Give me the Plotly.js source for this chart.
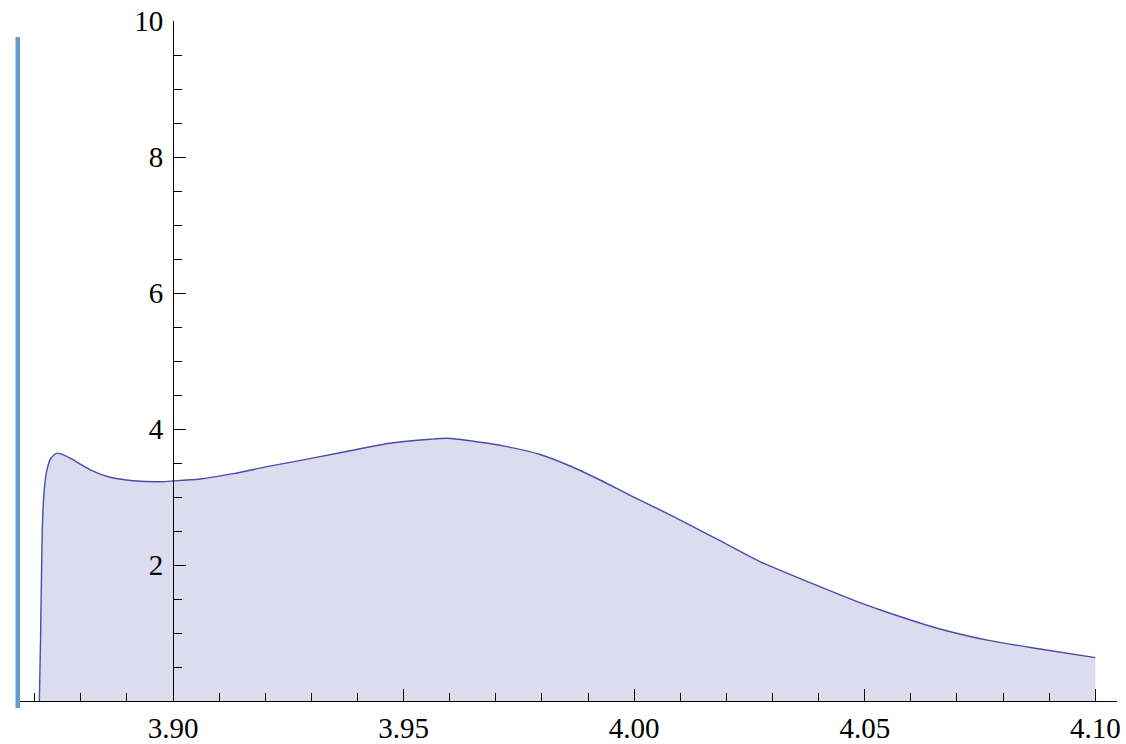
<!DOCTYPE html>
<html>
<head>
<meta charset="utf-8">
<script src="https://cdn.plot.ly/plotly-3.0.1.min.js"></script>
<style>html,body{margin:0;padding:0;background:#fff;}#chart{width:1126px;height:744px;}</style>
</head>
<body>
<div id="chart"></div>
<script>
// Density curve
const xValues = [3.8710, 3.87125, 3.87147, 3.87168, 3.87205, 3.87264, 3.87350, 3.87480, 3.87624, 3.87769,
  3.88203, 3.88636, 3.89135, 3.89720, 3.90000, 3.90588, 3.91303, 3.92034, 3.92539, 3.93623,
  3.94707, 3.95574, 3.95937, 3.96442, 3.97240, 3.97960, 3.98610, 3.99260, 3.99910, 4.00560,
  4.01210, 4.01860, 4.02729, 4.03813, 4.04897, 4.05547, 4.06631, 4.07715, 4.08800, 4.10000];
const yValues = [0.0, 0.90, 1.88, 2.62, 3.10, 3.40, 3.57, 3.645, 3.62, 3.57,
  3.40, 3.29, 3.24, 3.225, 3.235, 3.265, 3.343, 3.446, 3.51, 3.651,
  3.79, 3.849, 3.863, 3.828, 3.74, 3.625, 3.456, 3.25, 3.025, 2.809,
  2.588, 2.357, 2.049, 1.740, 1.446, 1.290, 1.059, 0.887, 0.765, 0.637];

const xMajorTicks = [3.90, 3.95, 4.00, 4.05, 4.10];
const xTickLabels = ["3.90", "3.95", "4.00", "4.05", "4.10"];
const xMinorTicks = [3.87, 3.88, 3.89, 3.91, 3.92, 3.93, 3.94, 3.96, 3.97, 3.98, 3.99,
  4.01, 4.02, 4.03, 4.04, 4.06, 4.07, 4.08, 4.09];
const yMajorTicks = [2, 4, 6, 8, 10];
const yTickLabels = ["2", "4", "6", "8", "10"];
const yMinorTicks = [0.5, 1, 1.5, 2.5, 3, 3.5, 4.5, 5, 5.5, 6.5, 7, 7.5, 8.5, 9, 9.5];

const W = 1126, H = 744;
const L = 20, R = 9, T = 21, B = 43;
const xRange = [3.8668, 4.1047];
const yAxisPos = (3.90 - xRange[0]) / (xRange[1] - xRange[0]);
const tickFont = {family: "Liberation Serif, Times New Roman, serif", size: 29, color: "#000"};

const trace = {
  x: xValues, y: yValues, type: "scatter", mode: "lines",
  line: {color: "rgb(72,76,170)", width: 1.4, shape: "spline", smoothing: 0.7},
  fill: "tozeroy", fillcolor: "rgb(221,220,238)",
  hoverinfo: "skip", showlegend: false
};

const layout = {
  width: W, height: H,
  margin: {l: L, r: R, t: T, b: B, pad: 0},
  paper_bgcolor: "#fff", plot_bgcolor: "#fff",
  showlegend: false,
  xaxis: {
    range: xRange, showgrid: false, zeroline: false,
    showline: true, linecolor: "#000", linewidth: 1,
    tickmode: "array", tickvals: xMajorTicks, ticktext: xTickLabels,
    ticks: "inside", ticklen: 12, tickwidth: 1, tickcolor: "#000",
    minor: {tickmode: "array", tickvals: xMinorTicks, ticks: "inside", ticklen: 8, tickwidth: 1, tickcolor: "#000", showgrid: false},
    tickfont: tickFont, ticklabelstandoff: 1, fixedrange: true
  },
  yaxis: {
    range: [0, 10], anchor: "free", position: yAxisPos,
    showgrid: false, zeroline: false,
    showline: true, linecolor: "#000", linewidth: 1,
    tickmode: "array", tickvals: yMajorTicks, ticktext: yTickLabels,
    ticks: "inside", ticklen: 12, tickwidth: 1, tickcolor: "#000",
    minor: {tickmode: "array", tickvals: yMinorTicks, ticks: "inside", ticklen: 8, tickwidth: 1, tickcolor: "#000", showgrid: false},
    tickfont: tickFont, ticklabelstandoff: 4, fixedrange: true
  },
  shapes: [
    {type: "rect", xref: "paper", yref: "paper",
     x0: (15.5 - L) / (W - L - R), x1: (20 - L) / (W - L - R),
     y0: (H - B - 708) / (H - T - B), y1: (H - B - 37) / (H - T - B),
     fillcolor: "rgb(102,153,204)", line: {width: 0}, layer: "above"}
  ],
  hovermode: false
};

Plotly.newPlot("chart", [trace], layout, {displayModeBar: false, staticPlot: true});
</script>
</body>
</html>
